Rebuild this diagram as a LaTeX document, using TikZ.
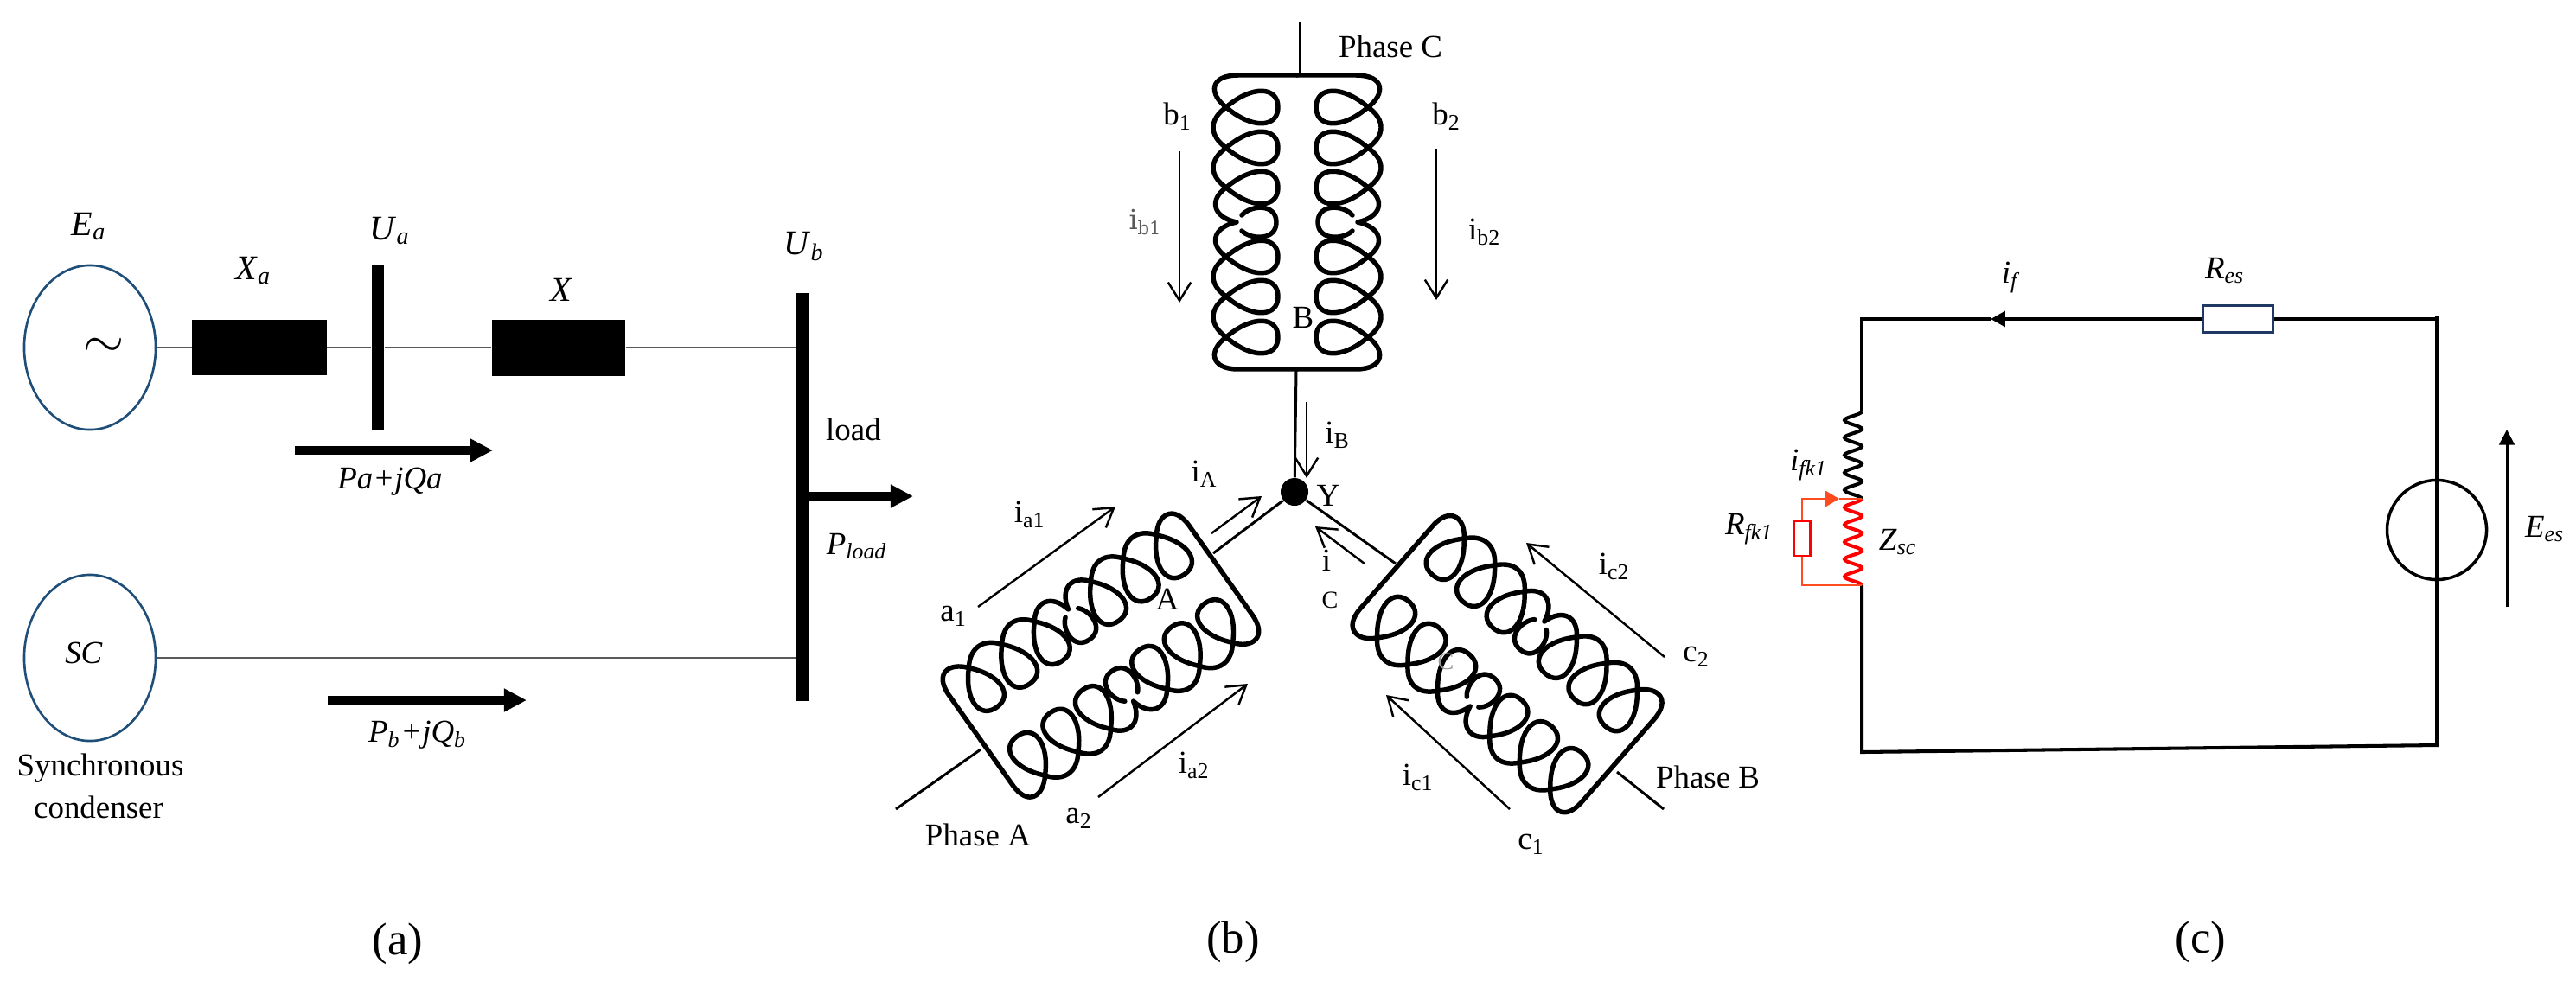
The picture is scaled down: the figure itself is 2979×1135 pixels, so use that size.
\documentclass[tikz,border=0pt]{standalone}
\usepackage{fontspec}
\setmainfont{Liberation Serif}
\newfontfamily\slabfont{DejaVu Serif}
\usetikzlibrary{arrows.meta,shapes.geometric}

\definecolor{genblue}{HTML}{1F4E79}
\definecolor{resblue}{HTML}{1F3864}
\definecolor{branch}{HTML}{FF4B1F}

\tikzset{
  every node/.style={font=\fontsize{10.5}{12.6}\selectfont, inner sep=0pt},
  caption/.style={font=\fontsize{15}{18}\selectfont},
  machine/.style={draw=genblue, line width=0.75pt, ellipse, fill=white},
  block/.style={fill=black, rectangle},
  feeder/.style={draw=black!65, line width=0.7pt},
  power/.style={line width=2.85pt, -{Triangle[length=7.4pt,width=7.2pt]}},
  winding/.style={line width=1.55pt, line cap=round, line join=round},
  lead/.style={line width=0.85pt},
  current/.style={line width=0.7pt, -{Straight Barb[length=6pt,width=7.5pt]}},
  wire/.style={line width=1.15pt},
  branchwire/.style={draw=branch, line width=0.75pt},
  solid tip/.style={-{Triangle[length=4.8pt,width=5pt]}}
}

% one half of a winding: left side, from the top bar to the bottom bar
\newcommand{\coilhalf}{
  \draw[winding] (0,-170) -- (-68,-170) .. controls (-102,-170) and (-102,-148) .. (-82,-133)
    \foreach \c/\d in {-133/47,-86/46} {
      .. controls (-52,\c+26) and (-22,\c+24) .. (-22,\c)
      .. controls (-22,\c-24) and (-52,\c-26) .. (-82,\c)
      .. controls (-102,\c+14) and (-102,\c+\d-14) .. (-82,\c+\d)
    }
    .. controls (-52,-14) and (-22,-16) .. (-22,-40)
    .. controls (-22,-64) and (-52,-66) .. (-82,-40)
    .. controls (-102,-26) and (-98,-6) .. (-70,0)
    .. controls (-98,6) and (-102,26) .. (-82,40)
    \foreach \c/\d in {40/46,86/47} {
      .. controls (-52,\c+26) and (-22,\c+24) .. (-22,\c)
      .. controls (-22,\c-24) and (-52,\c-26) .. (-82,\c)
      .. controls (-102,\c+14) and (-102,\c+\d-14) .. (-82,\c+\d)
    }
    .. controls (-52,159) and (-22,157) .. (-22,133)
    .. controls (-22,109) and (-52,107) .. (-82,133)
    .. controls (-102,147) and (-102,170) .. (-68,170) -- (0,170);
  % the broken turn in the middle
  \draw[winding] (-64,-8) .. controls (-54,-20) and (-24,-22) .. (-24,0)
    .. controls (-24,22) and (-54,20) .. (-64,10);
}
% whole winding: centre, rotation and width
\newcommand{\phasecoil}[4]{
  \begin{scope}[shift={(#1,#2)}, rotate=#3, xscale=#4]
    \coilhalf
    \begin{scope}[xscale=-1]
      \coilhalf
    \end{scope}
  \end{scope}
}
\newcommand{\its}[2]{\textit{#1}\textsubscript{\textit{#2}}}

\begin{document}
\begin{tikzpicture}[x=0.01cm,y=-0.01cm]
  \useasboundingbox (0,0) rectangle (2979,1135);

  % (a) one-line network
  \node [machine, minimum width=1.52cm, minimum height=1.90cm] (Ea) at (104,402) {};
  \node [font=\fontsize{18}{18}\selectfont] (tilde) at (120,402) {$\sim$};
  \node [block, minimum width=1.55cm, minimum height=0.64cm] (Xa) at (300,402) {};
  \node [block, minimum width=0.14cm, minimum height=1.91cm] (Ua) at (437,402) {};
  \node [block, minimum width=1.54cm, minimum height=0.65cm] (X) at (646,402) {};
  \node [block, minimum width=0.14cm, minimum height=4.72cm] (Ub) at (928,575) {};
  \node [machine, minimum width=1.52cm, minimum height=1.92cm] (SC) at (104,761) {};
  \node (SCtext) at (97,755) {\textit{SC}};

  \draw [feeder] (Ea) -- (Xa);
  \draw [feeder] (Xa) -- (Ua);
  \draw [feeder] (Ua) -- (X);
  \draw [feeder] (X) -- (X -| Ub.west);
  \draw [feeder] (SC) -- (SC -| Ub.west);

  % power flow arrows
  \coordinate (pa1) at (341,521);
  \coordinate (pa2) at (570,521);
  \coordinate (pb1) at (379,810);
  \coordinate (pb2) at (609,810);
  \coordinate (pload) at (1056,574);
  \draw [power] (pa1) -- (pa2);
  \draw [power] (pb1) -- (pb2);
  \draw [power] (Ub.east |- pload) -- (pload);

  % labels of (a)
  \node (lEa) at (103,262) {\fontsize{11.4}{14}\selectfont\its{E}{a}};
  \node (lXa) at (293,313) {\fontsize{11.4}{14}\selectfont\its{X}{a}};
  \node (lUa) at (451,267) {\fontsize{11.4}{14}\selectfont\its{U}{a}};
  \node (lX) at (649,335) {\fontsize{11.4}{14}\selectfont\textit{X}};
  \node (lUb) at (930,285) {\fontsize{11.4}{14}\selectfont\its{U}{b}};
  \node (lPa) at (451,557) {\textit{Pa+jQa}};
  \node (lPb) at (483,850) {\its{P}{b}\textit{+j}\its{Q}{b}};
  \node (lload) at (987,497) {load};
  \node (lPload) at (991,632) {\its{P}{load}};
  \node (lsyn) at (116,889) {Synchronous};
  \node (lcon) at (114,934) {condenser};
  \node [caption] (capa) at (460,1092) {(a)};

  % (b) the three windings
  \phasecoil{1500}{257}{0}{1}
  \phasecoil{1273}{758}{125.3}{0.93}
  \phasecoil{1743}{768}{228.8}{0.93}

  \node [circle, fill=black, minimum size=0.32cm] (Y) at (1497,569) {};
  \coordinate (Ctop) at (1503,25);
  \coordinate (Cbar) at (1503,87);
  \coordinate (Bbar) at (1499,428);
  \coordinate (Abar) at (1403,640);
  \coordinate (Aend) at (1134,867);
  \coordinate (Aout) at (1036,936);
  \coordinate (Dbar) at (1614,652);
  \coordinate (Dend) at (1870,893);
  \coordinate (Dout) at (1924,936);
  \draw [lead] (Ctop) -- (Cbar);
  \draw [lead] (Bbar) -- (Y);
  \draw [lead] (Abar) -- (Y);
  \draw [lead] (Aend) -- (Aout);
  \draw [lead] (Dbar) -- (Y);
  \draw [lead] (Dend) -- (Dout);

  % current arrows
  \coordinate (ib1s) at (1364,175);
  \coordinate (ib1e) at (1364,350);
  \coordinate (ib2s) at (1661,172);
  \coordinate (ib2e) at (1661,347);
  \coordinate (iBs) at (1511,465);
  \coordinate (iBe) at (1511,553);
  \coordinate (iAs) at (1401,617);
  \coordinate (iAe) at (1459,574);
  \coordinate (ia1s) at (1131,702);
  \coordinate (ia1e) at (1290,586);
  \coordinate (ia2s) at (1270,922);
  \coordinate (ia2e) at (1443,791);
  \coordinate (iCs) at (1578,652);
  \coordinate (iCe) at (1521,609);
  \coordinate (ic2s) at (1925,760);
  \coordinate (ic2e) at (1765,628);
  \coordinate (ic1s) at (1746,936);
  \coordinate (ic1e) at (1603,804);
  \foreach \s/\e in {ib1s/ib1e,ib2s/ib2e,iBs/iBe,iAs/iAe,ia1s/ia1e,ia2s/ia2e,iCs/iCe,ic2s/ic2e,ic1s/ic1e}
    \draw [current] (\s) -- (\e);

  % labels of (b)
  \node (lPC) at (1608,54) {Phase C};
  \node (lPA) at (1131,966) {Phase A};
  \node (lPB) at (1975,899) {Phase B};
  \node (lb1) at (1362,135) {b\textsubscript{1}};
  \node (lb2) at (1673,135) {b\textsubscript{2}};
  \node [text=black!65, font=\slabfont\fontsize{9}{11}\selectfont] (lib1) at (1325,257) {i\textsubscript{b1}};
  \node (lib2) at (1717,268) {i\textsubscript{b2}};
  \node (lB) at (1507,367) {B};
  \node (liB) at (1547,503) {i\textsubscript{B}};
  \node (lY) at (1536,573) {Y};
  \node (liA) at (1393,548) {i\textsubscript{A}};
  \node (lia1) at (1191,595) {i\textsubscript{a1}};
  \node (la1) at (1103,713) {a\textsubscript{1}};
  \node (lia2) at (1381,885) {i\textsubscript{a2}};
  \node (la2) at (1248,947) {a\textsubscript{2}};
  \node (lA) at (1350,693) {A};
  \node (liC) at (1534,648) {i};
  \node [font=\fontsize{8}{10}\selectfont] (liCs) at (1538,694) {C};
  \node (lic2) at (1867,655) {i\textsubscript{c2}};
  \node (lc2) at (1962,760) {c\textsubscript{2}};
  \node (lic1) at (1640,899) {i\textsubscript{c1}};
  \node (lc1) at (1771,977) {c\textsubscript{1}};
  \node [text=black!40, font=\fontsize{8}{10}\selectfont] (lC) at (1672,765) {C};
  \node [caption] (capb) at (1426,1090) {(b)};

  % (c) excitation circuit
  \coordinate (TL) at (2153,369);
  \coordinate (TR) at (2818,366);
  \coordinate (BR) at (2818,862);
  \coordinate (BL) at (2153,870);
  \coordinate (J0) at (2153,476);
  \coordinate (J1) at (2153,577);
  \coordinate (J2) at (2153,677);
  \coordinate (iftip) at (2302,369);
  \coordinate (ifktip) at (2127,577);
  \coordinate (Eess) at (2899,702);
  \coordinate (Eese) at (2899,497);

  \draw [wire] (J2) -- (BL) -- (BR) -- (TR);
  \draw [wire] (J0) -- (TL) -- (iftip);
  \node [draw=resblue, line width=1pt, fill=white, minimum width=0.81cm, minimum height=0.31cm] (Res) at (2588,369) {};
  \draw [wire] (Res.east) -- (Res.east -| TR) -- (TR);
  \draw [wire, solid tip] (Res.west) -- (iftip);
  \node [circle, draw=black, line width=1pt, minimum size=1.15cm] (Ees) at (2818,613) {};

  % field winding
  \draw [wire] plot [domain=0:5, samples=81, smooth] ({2143+10*cos(360*\x)},{476+20.2*\x});
  \draw [wire, red] plot [domain=0:5, samples=81, smooth] ({2143+10*cos(360*\x)},{577+20*\x});

  % damper branch
  \node [draw=red, line width=0.7pt, fill=white, minimum width=0.19cm, minimum height=0.40cm] (Rf) at (2084,623) {};
  \draw [branchwire, -{Triangle[length=4.6pt,width=5.2pt]}] (Rf.north) |- (ifktip);
  \draw [branchwire] (ifktip) -- (J1);
  \draw [branchwire] (Rf.south) |- (J2);

  \draw [line width=0.85pt, -{Triangle[length=5pt,width=5pt]}] (Eess) -- (Eese);

  % labels of (c)
  \node (lif) at (2326,321) {\its{i}{f}};
  \node (lRes) at (2573,313) {\its{R}{es}};
  \node (lifk) at (2092,538) {\its{i}{fk1}};
  \node (lRf) at (2023,612) {\its{R}{fk1}};
  \node (lZ) at (2195,627) {\its{Z}{sc}};
  \node (lE) at (2943,612) {\its{E}{es}};
  \node [caption] (capc) at (2545,1090) {(c)};
\end{tikzpicture}
\end{document}
